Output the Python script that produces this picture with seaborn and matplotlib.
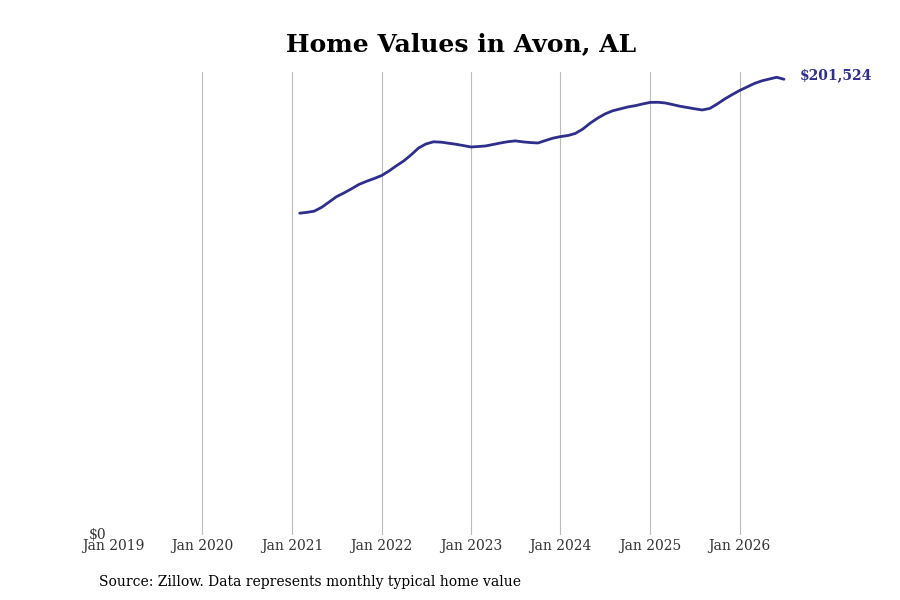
import matplotlib
matplotlib.use("Agg")
import matplotlib.pyplot as plt
import seaborn as sns
import pandas as pd

start_month = "2021-02-01"
values = [
    142300, 142650, 143180, 144860, 147250, 149600, 151280, 153130, 155030, 156410, 157600,
    158930, 161000, 163170, 165380, 168040, 171130, 172900, 173870, 173700, 173250, 172770, 172190,
    171570, 171800, 172020, 172680, 173340, 173920, 174270, 173830, 173520, 173340, 174450, 175470,
    176170, 176660, 177540, 179500, 182100, 184350, 186210, 187580, 188420, 189260, 189840, 190590,
    191290, 191340, 191070, 190370, 189620, 189040, 188470, 187940, 188600, 190540, 192800, 194700,
    196560, 198150, 199610, 200800, 201600, 202400, 201524,
]
tick_years = [2019, 2020, 2021, 2022, 2023, 2024, 2025, 2026]
tick_labels = [f"Jan {y}" for y in tick_years]
title = "Home Values in Avon, AL"
source = "Source: Zillow. Data represents monthly typical home value"
end_label = "$201,524"

dates = pd.date_range(start_month, periods=len(values), freq="MS")
df = pd.DataFrame({"date": dates, "value": values})

sns.set_theme(style="white")
plt.rcParams["font.family"] = ["DejaVu Serif"]

fig = plt.figure(figsize=(9, 6), dpi=100)
ax = fig.add_axes([0.1244, 0.1083, 0.9 - 0.1244, 0.88 - 0.1083])

line_color = "#2e2e8b"
sns.lineplot(data=df, x="date", y="value", ax=ax, color=line_color, linewidth=2.0)

ticks = [pd.Timestamp(f"{y}-01-01") for y in tick_years]
ax.set_xticks(ticks)
ax.set_xticklabels(tick_labels, fontsize=10, color="#333333")
ax.set_xlim(pd.Timestamp("2018-12-28"), pd.Timestamp("2026-10-15"))
ax.set_ylim(0, max(values) * 1.0115)
ax.set_yticks([0])
ax.set_yticklabels(["$0"], fontsize=10, color="#333333")
ax.tick_params(axis="x", length=0, pad=3)
ax.tick_params(axis="y", length=0, pad=4)
for lab in ax.get_yticklabels():
    lab.set_verticalalignment("center")
ax.set_xlabel("")
ax.set_ylabel("")
for s in ax.spines.values():
    s.set_visible(False)
ax.grid(axis="x", color="#bbbbbb", linewidth=0.8)
ax.grid(axis="y", visible=False)
ax.xaxis.get_gridlines()[0].set_visible(False)

ax.annotate(end_label, xy=(df["date"].iloc[-1], values[-1]), xytext=(11, 3),
            textcoords="offset points", color=line_color, fontsize=10,
            fontweight="bold", va="center", ha="left", annotation_clip=False)

fig.text(0.512, 0.927, title, ha="center", va="center", fontsize=18, fontweight="bold", color="black")
fig.text(0.11, 0.03, source, ha="left", va="center", fontsize=10, color="black")

fig.savefig("out.png", dpi=100)
